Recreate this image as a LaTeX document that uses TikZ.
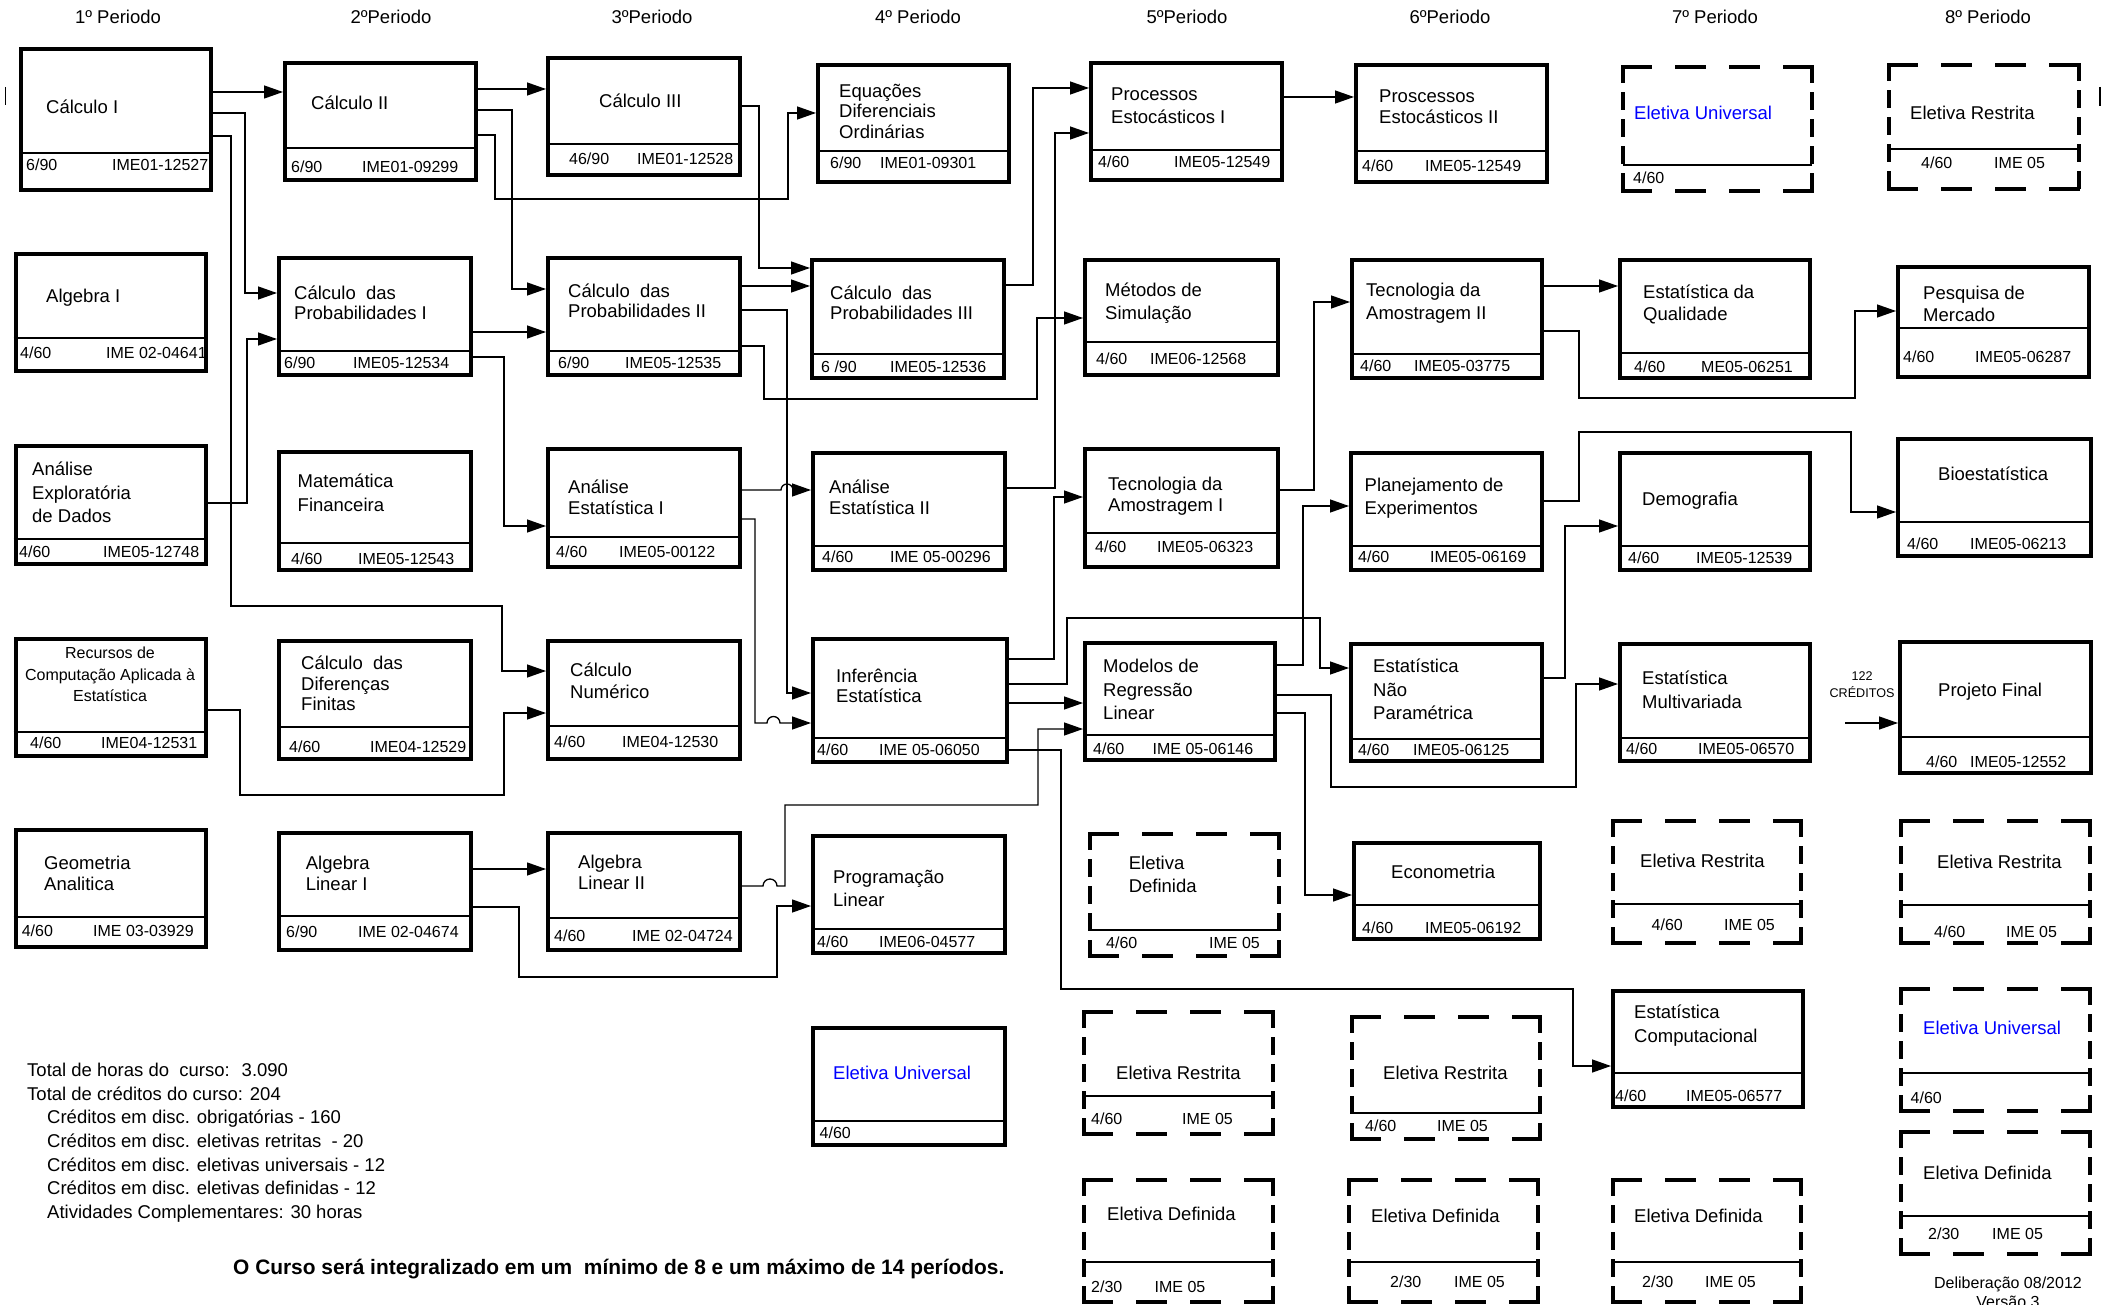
\documentclass[tikz,border=0pt]{standalone}
\usepackage{fontspec}
\setmainfont{Liberation Sans}
\usetikzlibrary{arrows.meta}
\definecolor{elecblue}{RGB}{0,0,255}

\tikzset{
  course/.style={draw, line width=4pt, inner sep=0pt, outer sep=2pt, anchor=north west, minimum width=191pt, minimum height=117pt},
  hdash/.style={line width=4pt, line cap=rect, dash pattern=on 27pt off 27pt},
  vdash/.style={line width=4pt, line cap=rect, dash pattern=on 14pt off 13pt},
  elective/.style={inner sep=0pt, outer sep=0pt, anchor=north west, minimum width=189pt, minimum height=122pt,
    append after command={
      (\tikzlastnode.north west) edge[hdash] (\tikzlastnode.north east)
      (\tikzlastnode.south west) edge[hdash] (\tikzlastnode.south east)
      (\tikzlastnode.north west) edge[vdash] (\tikzlastnode.south west)
      (\tikzlastnode.north east) edge[vdash] (\tikzlastnode.south east)}},
  divider/.style={line width=1.3pt},
  ctitle/.style={font=\fontsize{18.5}{#1}\selectfont, align=left, inner sep=0pt, anchor=base west},
  ctitle/.default=21,
  cinfo/.style={font=\fontsize{16}{19}\selectfont, inner sep=0pt, anchor=base west},
  period/.style={font=\fontsize{18.5}{22}\selectfont, inner sep=0pt, anchor=base},
  arr/.style={line width=1.3pt, -{Triangle[length=19pt,width=13pt]}}
}

\begin{document}
\begin{tikzpicture}[x=1pt,y=1pt,yscale=-1,xscale=1]
\useasboundingbox (0,0) rectangle (2109,1305);

% Period headers
\node[period] (p1) at (118,23.6) {1º Periodo};
\node[period] (p2) at (391,23.6) {2ºPeriodo};
\node[period] (p3) at (652,23.6) {3ºPeriodo};
\node[period] (p4) at (918,23.6) {4º Periodo};
\node[period] (p5) at (1187,23.6) {5ºPeriodo};
\node[period] (p6) at (1450,23.6) {6ºPeriodo};
\node[period] (p7) at (1715,23.6) {7º Periodo};
\node[period] (p8) at (1988,23.6) {8º Periodo};

%Straight Lines: edge marks
\draw[divider] (5.5,87) -- (5.5,105);
\draw[divider] (2100,87) -- (2100,106);

%Shape: Rectangle -- 1st period
\node[course, minimum width=190pt, minimum height=141pt] (calcI) at (19,47) {};
\draw[divider] (calcI.west |- 0,153) -- (calcI.east |- 0,153);
\node[ctitle] (calcI-t) at (46,114) {Cálculo I};
\node[cinfo] (calcI-c) at (26,171) {6/90};
\node[cinfo] (calcI-k) at (112,171) {IME01-12527};

\node[course, minimum width=190.5pt] (algI) at (13.5,252) {};
\draw[divider] (algI.west |- 0,338) -- (algI.east |- 0,338);
\node[ctitle] (algI-t) at (46,303) {Algebra I};
\node[cinfo] (algI-c) at (20,358.5) {4/60};
\node[cinfo] (algI-k) at (106,358.5) {IME 02-04641};

\node[course, minimum width=190.5pt, minimum height=118pt] (aed) at (13.5,444) {};
\draw[divider] (aed.west |- 0,539) -- (aed.east |- 0,539);
\node[ctitle=23.7] (aed-t) at (32,522.9) {Análise\\Exploratória\\de Dados};
\node[cinfo] (aed-c) at (19,557.5) {4/60};
\node[cinfo] (aed-k) at (103,557.5) {IME05-12748};

\node[course, minimum width=190.5pt] (recursos) at (13.5,637) {};
\draw[divider] (recursos.west |- 0,732) -- (recursos.east |- 0,732);
\node[cinfo, align=center, anchor=base, font=\fontsize{16}{21.5}\selectfont] (recursos-t) at (110,701.5) {Recursos de\\Computação Aplicada à\\Estatística};
\node[cinfo] (recursos-c) at (30,748.5) {4/60};
\node[cinfo] (recursos-k) at (101,748.5) {IME04-12531};

\node[course, minimum width=190.5pt] (geo) at (13.5,828) {};
\draw[divider] (geo.west |- 0,917) -- (geo.east |- 0,917);
\node[ctitle=21.3] (geo-t) at (44,890.8) {Geometria\\Analitica};
\node[cinfo] (geo-c) at (21.6,936.5) {4/60};
\node[cinfo] (geo-k) at (93,936.5) {IME 03-03929};

%Shape: Rectangle -- 2nd period
\node[course] (calcII) at (283,61) {};
\draw[divider] (calcII.west |- 0,148) -- (calcII.east |- 0,148);
\node[ctitle] (calcII-t) at (311,109.6) {Cálculo II};
\node[cinfo] (calcII-c) at (291,172.5) {6/90};
\node[cinfo] (calcII-k) at (362,172.5) {IME01-09299};

\node[course, minimum width=192pt] (cpI) at (277,256) {};
\draw[divider] (cpI.west |- 0,351) -- (cpI.east |- 0,351);
\node[ctitle=20.5] (cpI-t) at (294,320) {Cálculo~ das\\Probabilidades I};
\node[cinfo] (cpI-c) at (284,369) {6/90};
\node[cinfo] (cpI-k) at (353,369) {IME05-12534};

\node[course, minimum width=192pt, minimum height=118pt] (matFin) at (277,450) {};
\draw[divider] (matFin.west |- 0,543) -- (matFin.east |- 0,543);
\node[ctitle=24.3] (matFin-t) at (297.5,511.8) {Matemática\\Financeira};
\node[cinfo] (matFin-c) at (291,564) {4/60};
\node[cinfo] (matFin-k) at (358,564) {IME05-12543};

\node[course, minimum width=192pt, minimum height=118pt] (difFin) at (277,639) {};
\draw[divider] (difFin.west |- 0,727) -- (difFin.east |- 0,727);
\node[ctitle=20.5] (difFin-t) at (301,710.5) {Cálculo~ das\\Diferenças\\Finitas};
\node[cinfo] (difFin-c) at (289,752.5) {4/60};
\node[cinfo] (difFin-k) at (370,752.5) {IME04-12529};

\node[course, minimum width=192pt] (alI) at (277,831) {};
\draw[divider] (alI.west |- 0,916) -- (alI.east |- 0,916);
\node[ctitle=21.3] (alI-t) at (305.6,890.8) {Algebra\\Linear I};
\node[cinfo] (alI-c) at (286,937.5) {6/90};
\node[cinfo] (alI-k) at (358,937.5) {IME 02-04674};

%Shape: Rectangle -- 3rd period
\node[course, minimum width=192pt] (calcIII) at (546,56) {};
\draw[divider] (calcIII.west |- 0,144) -- (calcIII.east |- 0,144);
\node[ctitle] (calcIII-t) at (599,107.5) {Cálculo III};
\node[cinfo] (calcIII-c) at (569,164.5) {46/90};
\node[cinfo] (calcIII-k) at (637,164.5) {IME01-12528};

\node[course, minimum width=192pt] (cpII) at (546,256) {};
\draw[divider] (cpII.west |- 0,351) -- (cpII.east |- 0,351);
\node[ctitle=20.5] (cpII-t) at (568,318) {Cálculo~ das\\Probabilidades II};
\node[cinfo] (cpII-c) at (558,368.5) {6/90};
\node[cinfo] (cpII-k) at (625,368.5) {IME05-12535};

\node[course, minimum width=192pt, minimum height=118pt] (aeI) at (546,447) {};
\draw[divider] (aeI.west |- 0,537) -- (aeI.east |- 0,537);
\node[ctitle] (aeI-t) at (568,514.5) {Análise\\Estatística I};
\node[cinfo] (aeI-c) at (556,557.5) {4/60};
\node[cinfo] (aeI-k) at (619,557.5) {IME05-00122};

\node[course, minimum width=192pt, minimum height=118pt] (calcNum) at (546,639) {};
\draw[divider] (calcNum.west |- 0,726) -- (calcNum.east |- 0,726);
\node[ctitle=21.7] (calcNum-t) at (570,698.2) {Cálculo\\Numérico};
\node[cinfo] (calcNum-c) at (554,747.5) {4/60};
\node[cinfo] (calcNum-k) at (622,747.5) {IME04-12530};

\node[course, minimum width=192pt] (alII) at (546,831) {};
\draw[divider] (alII.west |- 0,918) -- (alII.east |- 0,918);
\node[ctitle] (alII-t) at (578,889.5) {Algebra\\Linear II};
\node[cinfo] (alII-c) at (554,941.5) {4/60};
\node[cinfo] (alII-k) at (632,941.5) {IME 02-04724};

%Shape: Rectangle -- 4th period
\node[course] (edo) at (816,63) {};
\draw[divider] (edo.west |- 0,151) -- (edo.east |- 0,151);
\node[ctitle=20.5] (edo-t) at (839,138.5) {Equações\\Diferenciais\\Ordinárias};
\node[cinfo] (edo-c) at (830,169) {6/90};
\node[cinfo] (edo-k) at (880,169) {IME01-09301};

\node[course, minimum width=192pt, minimum height=118pt] (cpIII) at (810,258) {};
\draw[divider] (cpIII.west |- 0,354) -- (cpIII.east |- 0,354);
\node[ctitle=20.5] (cpIII-t) at (830,320) {Cálculo~ das\\Probabilidades III};
\node[cinfo] (cpIII-c) at (821,372.5) {6 /90};
\node[cinfo] (cpIII-k) at (890,372.5) {IME05-12536};

\node[course, minimum width=192pt] (aeII) at (811,451) {};
\draw[divider] (aeII.west |- 0,546) -- (aeII.east |- 0,546);
\node[ctitle] (aeII-t) at (829,514.5) {Análise\\Estatística II};
\node[cinfo] (aeII-c) at (822,562.5) {4/60};
\node[cinfo] (aeII-k) at (890,562.5) {IME 05-00296};

\node[course, minimum width=194pt, minimum height=123pt] (infer) at (811,637) {};
\draw[divider] (infer.west |- 0,738) -- (infer.east |- 0,738);
\node[ctitle=20] (infer-t) at (836,702.5) {Inferência\\Estatística};
\node[cinfo] (infer-c) at (817,755.5) {4/60};
\node[cinfo] (infer-k) at (879,755.5) {IME 05-06050};

\node[course, minimum width=192pt] (progLin) at (811,834) {};
\draw[divider] (progLin.west |- 0,929) -- (progLin.east |- 0,929);
\node[ctitle=23.3] (progLin-t) at (833,906.8) {Programação\\Linear};
\node[cinfo] (progLin-c) at (817,947.5) {4/60};
\node[cinfo] (progLin-k) at (879,947.5) {IME06-04577};

\node[course, minimum width=192pt] (eletU4) at (811,1026) {};
\draw[divider] (eletU4.west |- 0,1121) -- (eletU4.east |- 0,1121);
\node[ctitle, text=elecblue] (eletU4-t) at (833,1079.5) {Eletiva Universal};
\node[cinfo] (eletU4-c) at (819.5,1138.5) {4/60};

%Shape: Rectangle -- 5th period
\node[course] (procI) at (1089,61) {};
\draw[divider] (procI.west |- 0,150) -- (procI.east |- 0,150);
\node[ctitle=22.7] (procI-t) at (1111,123.2) {Processos\\Estocásticos I};
\node[cinfo] (procI-c) at (1098,167.5) {4/60};
\node[cinfo] (procI-k) at (1174,167.5) {IME05-12549};

\node[course, minimum width=193pt, minimum height=115pt] (metSim) at (1083,258) {};
\draw[divider] (metSim.west |- 0,342) -- (metSim.east |- 0,342);
\node[ctitle=22.7] (metSim-t) at (1105,319.2) {Métodos de\\Simulação};
\node[cinfo] (metSim-c) at (1096,365) {4/60};
\node[cinfo] (metSim-k) at (1150,365) {IME06-12568};

\node[course, minimum width=193pt, minimum height=118pt] (tecI) at (1083,447) {};
\draw[divider] (tecI.west |- 0,533) -- (tecI.east |- 0,533);
\node[ctitle] (tecI-t) at (1108,511.5) {Tecnologia da\\Amostragem I};
\node[cinfo] (tecI-c) at (1095,552.5) {4/60};
\node[cinfo] (tecI-k) at (1157,552.5) {IME05-06323};

\node[course, minimum width=190pt] (modReg) at (1083,641) {};
\draw[divider] (modReg.west |- 0,735) -- (modReg.east |- 0,735);
\node[ctitle=23.5] (modReg-t) at (1103,719.5) {Modelos de\\Regressão\\Linear};
\node[cinfo] (modReg-c) at (1093,754) {4/60};
\node[cinfo] (modReg-k) at (1152.5,754) {IME 05-06146};

\node[elective] (eletD5a) at (1090,834) {};
\draw[divider] (eletD5a.west |- 0,930) -- (eletD5a.east |- 0,930);
\node[ctitle=23.3] (eletD5a-t) at (1128.6,892.8) {Eletiva\\Definida};
\node[cinfo] (eletD5a-c) at (1106,948.5) {4/60};
\node[cinfo] (eletD5a-k) at (1209,948.5) {IME 05};

\node[elective] (eletR5) at (1084,1012) {};
\draw[divider] (eletR5.west |- 0,1096) -- (eletR5.east |- 0,1096);
\node[ctitle] (eletR5-t) at (1116,1079.5) {Eletiva Restrita};
\node[cinfo] (eletR5-c) at (1091,1124.5) {4/60};
\node[cinfo] (eletR5-k) at (1182,1124.5) {IME 05};

\node[elective] (eletD5b) at (1084,1180) {};
\draw[divider] (eletD5b.west |- 0,1262) -- (eletD5b.east |- 0,1262);
\node[ctitle] (eletD5b-t) at (1107,1220.5) {Eletiva Definida};
\node[cinfo] (eletD5b-c) at (1091,1292.5) {2/30};
\node[cinfo] (eletD5b-k) at (1154.5,1292.5) {IME 05};

%Shape: Rectangle -- 6th period
\node[course] (procII) at (1354,63) {};
\draw[divider] (procII.west |- 0,151) -- (procII.east |- 0,151);
\node[ctitle] (procII-t) at (1379,123.5) {Proscessos\\Estocásticos II};
\node[cinfo] (procII-c) at (1362,171.5) {4/60};
\node[cinfo] (procII-k) at (1425,171.5) {IME05-12549};

\node[course, minimum width=190pt, minimum height=118pt] (tecII) at (1350,258) {};
\draw[divider] (tecII.west |- 0,354) -- (tecII.east |- 0,354);
\node[ctitle=22.7] (tecII-t) at (1366,319.2) {Tecnologia da\\Amostragem II};
\node[cinfo] (tecII-c) at (1360,371) {4/60};
\node[cinfo] (tecII-k) at (1414,371) {IME05-03775};

\node[course] (plan) at (1349,451) {};
\draw[divider] (plan.west |- 0,546) -- (plan.east |- 0,546);
\node[ctitle=22.7] (plan-t) at (1364.5,514.2) {Planejamento de\\Experimentos};
\node[cinfo] (plan-c) at (1358,562.5) {4/60};
\node[cinfo] (plan-k) at (1430,562.5) {IME05-06169};

\node[course] (naoPar) at (1349,642) {};
\draw[divider] (naoPar.west |- 0,739) -- (naoPar.east |- 0,739);
\node[ctitle=23.5] (naoPar-t) at (1373,719.5) {Estatística\\Não\\Paramétrica};
\node[cinfo] (naoPar-c) at (1358,755) {4/60};
\node[cinfo] (naoPar-k) at (1413,755) {IME05-06125};

\node[course, minimum width=186pt, minimum height=96pt] (econ) at (1352,841) {};
\draw[divider] (econ.west |- 0,905) -- (econ.east |- 0,905);
\node[ctitle] (econ-t) at (1391,878.5) {Econometria};
\node[cinfo] (econ-c) at (1362,933.5) {4/60};
\node[cinfo] (econ-k) at (1425,933.5) {IME05-06192};

\node[elective, minimum width=188pt] (eletR6) at (1352,1017) {};
\draw[divider] (eletR6.west |- 0,1113) -- (eletR6.east |- 0,1113);
\node[ctitle] (eletR6-t) at (1383,1079.5) {Eletiva Restrita};
\node[cinfo] (eletR6-c) at (1365,1131.5) {4/60};
\node[cinfo] (eletR6-k) at (1437,1131.5) {IME 05};

\node[elective] (eletD6) at (1349,1180) {};
\draw[divider] (eletD6.west |- 0,1262) -- (eletD6.east |- 0,1262);
\node[ctitle] (eletD6-t) at (1371,1222.5) {Eletiva Definida};
\node[cinfo] (eletD6-c) at (1390,1287.5) {2/30};
\node[cinfo] (eletD6-k) at (1454,1287.5) {IME 05};

%Shape: Rectangle -- 7th period
\node[elective, minimum height=124pt] (eletU7) at (1623,67) {};
\draw[divider] (eletU7.west |- 0,165) -- (eletU7.east |- 0,165);
\node[ctitle, text=elecblue] (eletU7-t) at (1634,119.5) {Eletiva Universal};
\node[cinfo] (eletU7-c) at (1633,183.5) {4/60};

\node[course, minimum width=190pt, minimum height=118pt] (qual) at (1618,258) {};
\draw[divider] (qual.west |- 0,353) -- (qual.east |- 0,353);
\node[ctitle=22] (qual-t) at (1643,320.5) {Estatística da\\Qualidade};
\node[cinfo] (qual-c) at (1634,372.5) {4/60};
\node[cinfo] (qual-k) at (1701,372.5) {ME05-06251};

\node[course, minimum width=190pt] (demo) at (1618,451) {};
\draw[divider] (demo.west |- 0,546) -- (demo.east |- 0,546);
\node[ctitle] (demo-t) at (1642,505.5) {Demografia};
\node[cinfo] (demo-c) at (1628,563.5) {4/60};
\node[cinfo] (demo-k) at (1696,563.5) {IME05-12539};

\node[course, minimum width=190pt] (multi) at (1618,642) {};
\draw[divider] (multi.west |- 0,738) -- (multi.east |- 0,738);
\node[ctitle=24] (multi-t) at (1642,708.5) {Estatística\\Multivariada};
\node[cinfo] (multi-c) at (1626,754) {4/60};
\node[cinfo] (multi-k) at (1698,754) {IME05-06570};

\node[elective, minimum width=188pt] (eletR7) at (1613,821) {};
\draw[divider] (eletR7.west |- 0,904) -- (eletR7.east |- 0,904);
\node[ctitle] (eletR7-t) at (1640,867.5) {Eletiva Restrita};
\node[cinfo] (eletR7-c) at (1651.5,930.5) {4/60};
\node[cinfo] (eletR7-k) at (1724,930.5) {IME 05};

\node[course, minimum width=190pt, minimum height=116pt] (estComp) at (1611,989) {};
\draw[divider] (estComp.west |- 0,1073) -- (estComp.east |- 0,1073);
\node[ctitle=24] (estComp-t) at (1634,1042.5) {Estatística\\Computacional};
\node[cinfo] (estComp-c) at (1615,1101.5) {4/60};
\node[cinfo] (estComp-k) at (1686,1101.5) {IME05-06577};

\node[elective, minimum width=188pt] (eletD7) at (1613,1180) {};
\draw[divider] (eletD7.west |- 0,1262) -- (eletD7.east |- 0,1262);
\node[ctitle] (eletD7-t) at (1634,1222.5) {Eletiva Definida};
\node[cinfo] (eletD7-c) at (1642,1287.5) {2/30};
\node[cinfo] (eletD7-k) at (1705,1287.5) {IME 05};

%Shape: Rectangle -- 8th period
\node[elective, minimum width=190pt, minimum height=124pt] (eletR8a) at (1889,65) {};
\draw[divider] (eletR8a.west |- 0,149) -- (eletR8a.east |- 0,149);
\node[ctitle] (eletR8a-t) at (1910,119.5) {Eletiva Restrita};
\node[cinfo] (eletR8a-c) at (1921,169) {4/60};
\node[cinfo] (eletR8a-k) at (1994,169) {IME 05};

\node[course, minimum height=110pt] (pesq) at (1896,265) {};
\draw[divider] (pesq.west |- 0,328) -- (pesq.east |- 0,328);
\node[ctitle=22] (pesq-t) at (1923,321.5) {Pesquisa de\\Mercado};
\node[cinfo] (pesq-c) at (1903,362.5) {4/60};
\node[cinfo] (pesq-k) at (1975,362.5) {IME05-06287};

\node[course, minimum width=193pt] (bio) at (1896,437) {};
\draw[divider] (bio.west |- 0,522) -- (bio.east |- 0,522);
\node[ctitle] (bio-t) at (1938,480.5) {Bioestatística};
\node[cinfo] (bio-c) at (1907,549.5) {4/60};
\node[cinfo] (bio-k) at (1970,549.5) {IME05-06213};

\node[course, minimum height=131pt] (projFinal) at (1898,640) {};
\draw[divider] (projFinal.west |- 0,737) -- (projFinal.east |- 0,737);
\node[ctitle] (projFinal-t) at (1938,696.5) {Projeto Final};
\node[cinfo] (projFinal-c) at (1926,767.5) {4/60};
\node[cinfo] (projFinal-k) at (1970,767.5) {IME05-12552};

\node[elective] (eletR8b) at (1901,821) {};
\draw[divider] (eletR8b.west |- 0,905) -- (eletR8b.east |- 0,905);
\node[ctitle] (eletR8b-t) at (1937,868.5) {Eletiva Restrita};
\node[cinfo] (eletR8b-c) at (1934,937.5) {4/60};
\node[cinfo] (eletR8b-k) at (2006,937.5) {IME 05};

\node[elective] (eletU8) at (1901,989) {};
\draw[divider] (eletU8.west |- 0,1073) -- (eletU8.east |- 0,1073);
\node[ctitle, text=elecblue] (eletU8-t) at (1923,1034.5) {Eletiva Universal};
\node[cinfo] (eletU8-c) at (1910.5,1103.5) {4/60};

\node[elective] (eletD8) at (1901,1132) {};
\draw[divider] (eletD8.west |- 0,1216) -- (eletD8.east |- 0,1216);
\node[ctitle] (eletD8-t) at (1923,1179.5) {Eletiva Definida};
\node[cinfo] (eletD8-c) at (1928,1239.5) {2/30};
\node[cinfo] (eletD8-k) at (1992,1239.5) {IME 05};

%Straight Lines: prerequisites
\draw[arr] (calcI.east |- 0,92) -- (calcII.west |- 0,92);
\draw[arr] (calcI.east |- 0,113) -| (245,293) -- (cpI.west |- 0,293);
\draw[arr] (calcI.east |- 0,136) -| (231,606) -| (502,671) -- (calcNum.west |- 0,671);
\draw[arr] (calcII.east |- 0,89) -- (calcIII.west |- 0,89);
\draw[arr] (calcII.east |- 0,110) -| (512,289) -- (cpII.west |- 0,289);
\draw[arr] (calcII.east |- 0,135) -| (495,199) -| (788,113) -- (edo.west |- 0,113);
\draw[arr] (calcIII.east |- 0,106) -| (759,268) -- (cpIII.west |- 0,268);
\draw[arr] (cpII.east |- 0,286) -- (cpIII.west |- 0,286);
\draw[arr] (cpI.east |- 0,332) -- (cpII.west |- 0,332);
\draw[arr] (aed.east |- 0,503) -| (247,339) -- (cpI.west |- 0,339);
\draw[arr] (cpI.east |- 0,357) -| (504,526) -- (aeI.west |- 0,526);
\draw[arr] (cpII.east |- 0,310) -| (787,693) -- (infer.west |- 0,693);
\draw[arr] (cpII.east |- 0,346) -| (764,399) -| (1037,318) -- (metSim.west |- 0,318);
\draw[arr] (cpIII.east |- 0,285) -| (1033,88) -- (procI.west |- 0,88);
\draw[arr] (aeII.east |- 0,488) -| (1055,133) -- (procI.west |- 0,133);
\draw[arr] (aeI.east |- 0,490) -- (781,490) arc[start angle=180, end angle=360, radius=6] -- (aeII.west |- 0,490);
\draw[arr] (aeI.east |- 0,519) -| (755,723) -- (767,723) arc[start angle=180, end angle=360, radius=6.5] -- (infer.west |- 0,723);
\draw[arr] (recursos.east |- 0,710) -| (240,795) -| (504,713) -- (calcNum.west |- 0,713);
\draw[arr] (alI.east |- 0,869) -- (alII.west |- 0,869);
\draw[arr] (alI.east |- 0,907) -| (519,977) -| (777,906) -- (progLin.west |- 0,906);
\draw[arr] (alII.east |- 0,886) -- (763,886) arc[start angle=180, end angle=360, radius=7] -| (785,805) -| (1038,729) -- (modReg.west |- 0,729);
\draw[arr] (infer.east |- 0,659) -| (1054,497) -- (tecI.west |- 0,497);
\draw[arr] (infer.east |- 0,684) -| (1067,618) -| (1320,668) -- (naoPar.west |- 0,668);
\draw[arr] (infer.east |- 0,703) -- (modReg.west |- 0,703);
\draw[arr] (infer.east |- 0,750) -| (1061,989) -| (1573,1066) -- (estComp.west |- 0,1066);
\draw[arr] (procI.east |- 0,97) -- (procII.west |- 0,97);
\draw[arr] (tecI.east |- 0,490) -| (1314,302) -- (tecII.west |- 0,302);
\draw[arr] (modReg.east |- 0,665) -| (1303,506) -- (plan.west |- 0,506);
\draw[arr] (modReg.east |- 0,695) -| (1331,787) -| (1576,684) -- (multi.west |- 0,684);
\draw[arr] (modReg.east |- 0,713) -| (1305,895) -- (econ.west |- 0,895);
\draw[arr] (tecII.east |- 0,286) -- (qual.west |- 0,286);
\draw[arr] (tecII.east |- 0,331) -| (1579,398) -| (1855,311) -- (pesq.west |- 0,311);
\draw[arr] (plan.east |- 0,501) -| (1579,432) -| (1851,512) -- (bio.west |- 0,512);
\draw[arr] (naoPar.east |- 0,678) -| (1565,526) -- (demo.west |- 0,526);

% Text Node: credits to final project
\node[cinfo, anchor=base, align=center, font=\fontsize{12.6}{17}\selectfont] (creditos) at (1862,697.5) {122\\CRÉDITOS};
\coordinate (creditsIn) at (1845,723);
\draw[arr] (creditsIn) -- (projFinal.west |- creditsIn);

% Text Node: totals
\node[ctitle=23.6] (totais) at (27,1218.2) {Total de horas do~ curso:~ 3.090\\Total de créditos do curso: 204\\
\hspace*{20pt}Créditos em disc. obrigatórias - 160\\\hspace*{20pt}Créditos em disc. eletivas retritas~ - 20\\
\hspace*{20pt}Créditos em disc. eletivas universais - 12\\\hspace*{20pt}Créditos em disc. eletivas definidas - 12\\
\hspace*{20pt}Atividades Complementares: 30 horas};
% Text Node
\node[ctitle, font=\fontsize{20.9}{24}\selectfont\bfseries] (prazo) at (233,1274) {O Curso será integralizado em um~ mínimo de 8 e um máximo de 14 períodos.};
% Text Node
\node[cinfo, anchor=base, align=center] (delib) at (2008,1307.5) {Deliberação 08/2012\\Versão 3};
\end{tikzpicture}
\end{document}
